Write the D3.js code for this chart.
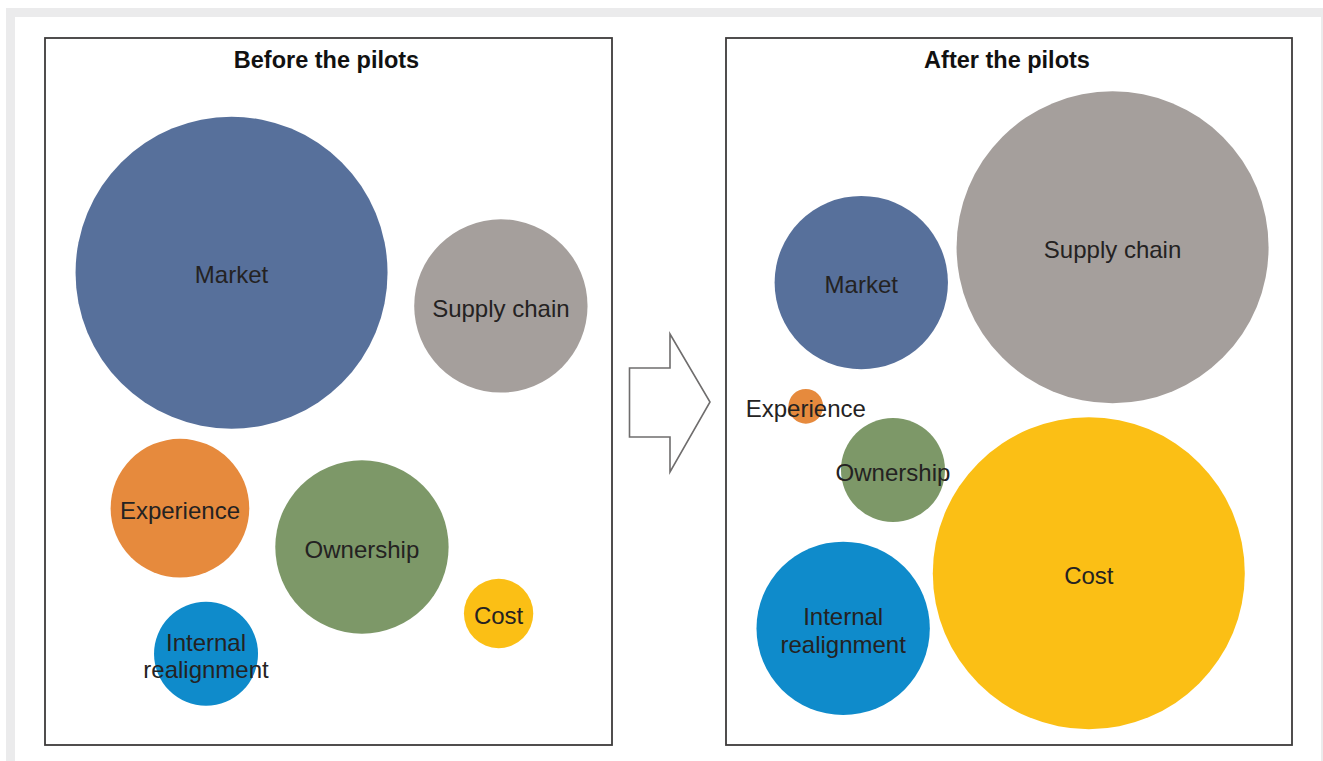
<!DOCTYPE html>
<html>
<head>
<meta charset="utf-8">
<script src="https://cdn.jsdelivr.net/npm/d3@7"></script>
<style>
  html, body { margin: 0; padding: 0; background: #ffffff; }
  svg { display: block; }
  text { font-family: "Liberation Sans", Arial, Helvetica, sans-serif; }
</style>
</head>
<body>
<svg id="chart" width="1323" height="761"></svg>
<script>
// ---- data ----
const categories = ["Market", "Supply chain", "Experience", "Ownership", "Cost", "Internal realignment"];
const labelLines = [["Market"], ["Supply chain"], ["Experience"], ["Ownership"], ["Cost"], ["Internal", "realignment"]];
const colors = ["#57709b", "#a59f9c", "#e68a3d", "#7d9868", "#fbbf15", "#0f8bcb"];
const panelTitles = ["Before the pilots", "After the pilots"];

// importance score (bubble size), 1..9
const beforeValues = [9, 5, 4, 5, 2, 3];
const afterValues  = [5, 9, 1, 3, 9, 5];

// bubble placement inside each panel (percent of panel width / height)
const beforeX = [32.9, 80.4, 23.8, 55.9, 80.0, 28.4];
const beforeY = [33.2, 37.9, 66.5, 72.0, 81.4, 87.1];
const afterX  = [23.9, 68.3, 14.1, 29.5, 64.1, 20.7];
const afterY  = [34.6, 29.6, 52.1, 61.1, 75.7, 83.5];

// ---- layout ----
const svg = d3.select("#chart");
const W = 1323, H = 761;

// page frame
svg.append("rect").attr("x", 6).attr("y", 8).attr("width", W - 6).attr("height", H - 8).attr("fill", "#ebebec");
svg.append("rect").attr("x", 15).attr("y", 17).attr("width", 1306).attr("height", H - 17).attr("fill", "#ffffff");

const panels = [
  { title: panelTitles[0], x0: 45, x1: 612, values: beforeValues, px: beforeX, py: beforeY },
  { title: panelTitles[1], x0: 726, x1: 1292, values: afterValues, px: afterX, py: afterY }
];
const y0 = 38, y1 = 745;

const r = d3.scaleLinear().domain([0, 9]).range([0, 156]);

panels.forEach(p => {
  const x = d3.scaleLinear().domain([0, 100]).range([p.x0, p.x1]);
  const y = d3.scaleLinear().domain([0, 100]).range([y0, y1]);
  const g = svg.append("g");

  g.append("rect")
    .attr("x", p.x0).attr("y", y0)
    .attr("width", p.x1 - p.x0).attr("height", y1 - y0)
    .attr("fill", "#fff").attr("stroke", "#3d3b3b").attr("stroke-width", 1.8);

  g.append("text")
    .attr("x", (p.x0 + p.x1) / 2 - 2).attr("y", 68)
    .attr("text-anchor", "middle")
    .attr("font-size", 23.5).attr("font-weight", "bold").attr("fill", "#111")
    .text(p.title);

  const data = categories.map((c, i) => ({
    name: c, lines: labelLines[i], color: colors[i],
    v: p.values[i], cx: x(p.px[i]), cy: y(p.py[i])
  }));

  g.selectAll("circle").data(data).join("circle")
    .attr("cx", d => d.cx).attr("cy", d => d.cy)
    .attr("r", d => r(d.v))
    .attr("fill", d => d.color);

  const lbl = g.selectAll("text.lbl").data(data).join("text")
    .attr("class", "lbl")
    .attr("text-anchor", "middle")
    .attr("font-size", 24).attr("fill", "#242222");
  lbl.each(function(d) {
    const t = d3.select(this);
    const n = d.lines.length;
    d.lines.forEach((ln, k) => {
      t.append("tspan")
        .attr("x", d.cx)
        .attr("y", d.cy + (k - (n - 1) / 2) * 27.5)
        .attr("dy", "0.44em")
        .text(ln);
    });
  });
});

// hollow arrow between panels
const arrowPts = [[629.5, 368], [670, 368], [670, 334], [710, 402], [670, 472], [670, 437], [629.5, 437]];
svg.append("path")
  .attr("d", d3.line()(arrowPts) + "Z")
  .attr("fill", "#fff").attr("stroke", "#6f6d6d").attr("stroke-width", 1.6)
  .attr("stroke-linejoin", "miter");
</script>
</body>
</html>
